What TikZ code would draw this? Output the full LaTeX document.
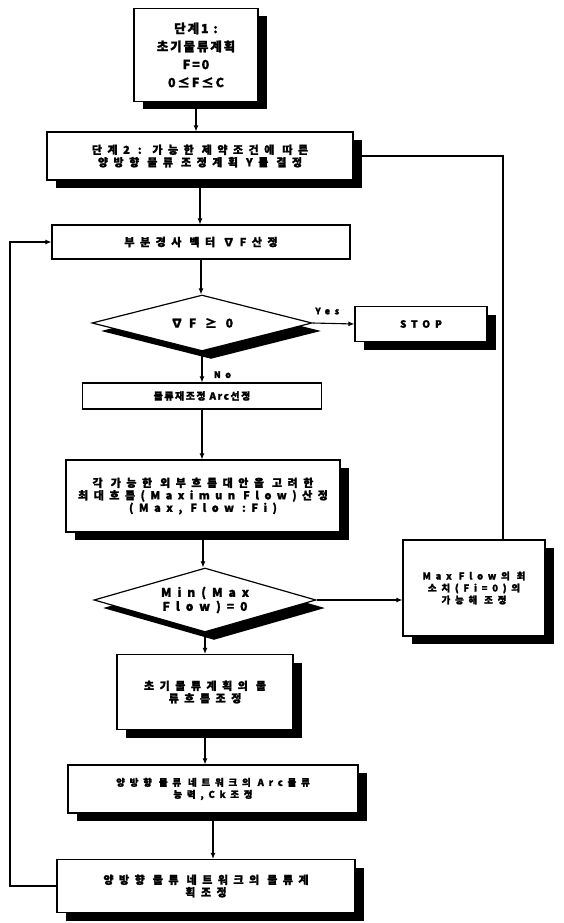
\documentclass[tikz,border=0pt]{standalone}
\usepackage{fontspec}
\setmainfont{Noto Sans CJK KR}[LetterSpace=50, FakeBold=1.6]
\newfontfamily\grande{Noto Sans CJK KR}[LetterSpace=15, FakeBold=1.5]
\usetikzlibrary{
    positioning,
    arrows.meta,
    shapes.geometric,
    shadows
}
\tikzset{
    >={Latex[length=6pt,width=5pt]},
    caja/.style={
        draw,
        line width=1.2pt,
        fill=white,
        align=center,
        inner sep=2pt,
        font=\bfseries\fontsize{11}{12.5}\selectfont
    },
    chica/.style={font=\bfseries\fontsize{9.5}{12}\selectfont},
    sombra/.style={
        drop shadow={shadow xshift=9pt, shadow yshift=-8pt, fill=black, opacity=1}
    },
    decision/.style={
        diamond,
        draw,
        line width=1.2pt,
        fill=white,
        align=center,
        inner sep=0pt,
        font=\bfseries\fontsize{12}{14}\selectfont
    },
    flecha/.style={->, line width=1.1pt},
    etiqueta/.style={font=\bfseries\fontsize{9}{11}\selectfont}
}

\begin{document}
\begin{tikzpicture}[x=1pt, y=-1pt]

    \useasboundingbox (0,0) rectangle (563,923);

    % Nodos
    \node[caja, sombra, minimum width=124pt, minimum height=93pt,
          font=\grande\bfseries\fontsize{12.5}{18}\selectfont]
                                              (paso1) at (196,55)    {단계1 :\\초기물류계획\\F=0\\0≤F≤C};
    \node[caja, sombra, minimum width=306pt, minimum height=48pt]
                                              (paso2) at (200,156)   {단계2 : 가능한 제약조건에 따른\\양방향 물류 조정계획 Y를 결정};
    \node[caja, minimum width=298pt, minimum height=34pt]
                                              (grad)  at (201,242)   {부분경사 벡터 ∇F산정};
    \node[decision, sombra, aspect=3.9, minimum width=220pt, minimum height=56pt]
                                              (dec1)  at (202,323)   {∇F ≥ 0};
    \node[caja, sombra, minimum width=132pt, minimum height=35pt,
          font=\bfseries\fontsize{10}{12}\selectfont]
                                              (stop)  at (421,324)   {STOP};
    \node[caja, minimum width=239pt, minimum height=26pt,
          font=\grande\bfseries\fontsize{10}{11}\selectfont]
                                              (arco)  at (202,396)   {물류재조정 Arc선정};
    \node[caja, sombra, minimum width=274pt, minimum height=72pt]
                                              (maxf)  at (203,496)   {각 가능한 외부흐름대안을 고려한\\최대흐름(Maximun Flow)산정\\(Max, Flow :Fi)};
    \node[decision, sombra, aspect=3.5, minimum width=222pt, minimum height=64pt]
                                              (dec2)  at (205,600)   {Min(Max\\Flow)=0};
    \node[caja, chica, sombra, minimum width=142pt, minimum height=96pt]
                                              (ajuste) at (474,588)  {Max Flow의 최\\소치(Fi=0)의\\가능해 조정};
    \node[caja, sombra, minimum width=176pt, minimum height=75pt]
                                              (flujo) at (205,692)   {초기물류계획의 물\\류흐름조정};
    \node[caja, chica, sombra, minimum width=290pt, minimum height=48pt]
                                              (capac) at (213,789)   {양방향 물류 네트워크의 Arc물류\\능력,Ck조정};
    \node[caja, sombra, minimum width=298pt, minimum height=53pt]
                                              (plan)  at (206,886)   {양방향 물류 네트워크의 물류계\\획조정};

    \coordinate (derecha)   at (503,0);
    \coordinate (izquierda) at (10,0);

    % Conexiones
    \path[flecha]
        (paso1.south) edge (paso1.south |- paso2.north)
        (paso2.south) edge (paso2.south |- grad.north)
        (grad.south)  edge (grad.south |- dec1.north)
        (dec1.south)  edge node[etiqueta, right=8pt, pos=0.75] {No} (dec1.south |- arco.north)
        (dec1.east)   edge node[etiqueta, above=5pt, pos=0.35] {Yes} (stop.west)
        (arco.south)  edge (arco.south |- maxf.north)
        (maxf.south)  edge (maxf.south |- dec2.north)
        (dec2.east)   edge (dec2.east -| ajuste.west)
        (dec2.south)  edge (dec2.south |- flujo.north)
        (flujo.south) edge (flujo.south |- capac.north)
        (capac.south) edge (capac.south |- plan.north);

    % Retornos
    \draw[flecha] (ajuste.north -| derecha) -- (derecha |- paso2.east) -- (paso2.east);
    \draw[flecha] (plan.west) -- (plan.west -| izquierda) -- (izquierda |- grad.west) -- (grad.west);

\end{tikzpicture}
\end{document}
